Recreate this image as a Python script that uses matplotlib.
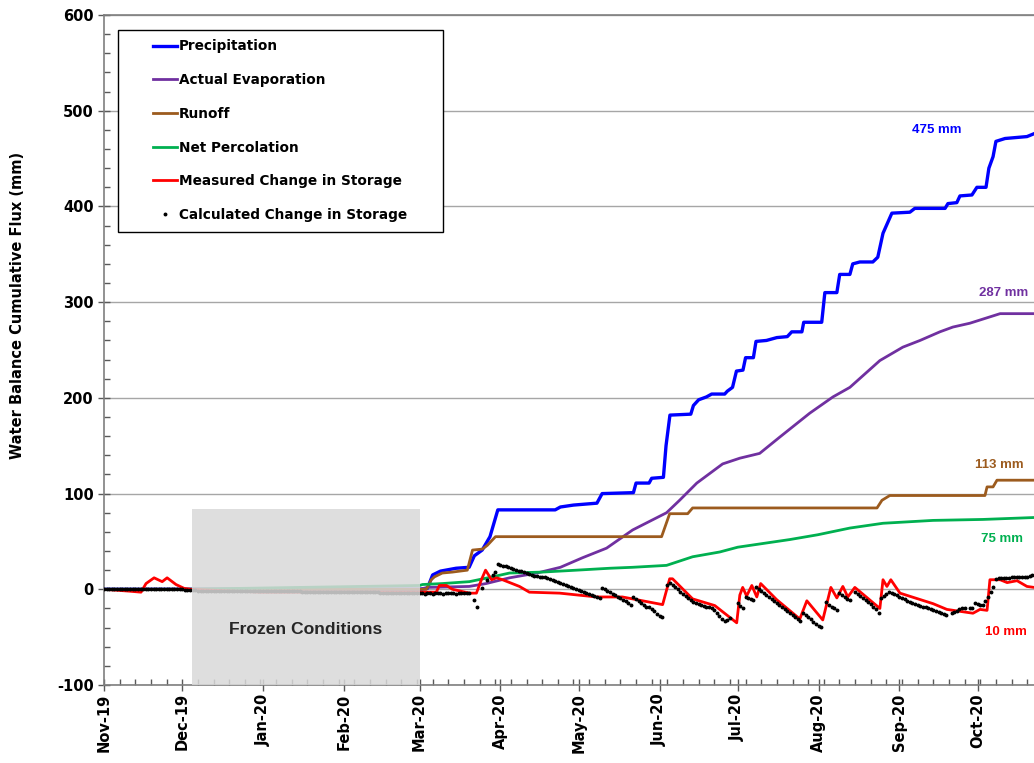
import numpy as np
import matplotlib
matplotlib.use('Agg')
import matplotlib.pyplot as plt
import matplotlib.dates as mdates
from matplotlib.ticker import MultipleLocator, AutoMinorLocator
from matplotlib.patches import Rectangle
from matplotlib.lines import Line2D
from matplotlib.legend_handler import HandlerLine2D
from datetime import datetime

plt.rcParams['axes.unicode_minus'] = False

# day offsets are days since 1 Nov 2019
precip_day = [0, 121, 124, 126, 129, 135, 140, 142, 145, 148, 151, 173, 175, 180, 189, 191,
              203, 204, 209, 210, 214.5, 215.5, 217, 225, 226, 228, 231, 233, 238, 239, 241,
              242.5, 245, 246, 249, 250, 254, 258, 262, 263.7, 267.6, 268.3, 275.2, 276.4, 281,
              282.1, 286, 287.1, 289.8, 294.8, 296.7, 298.7, 302.1, 309, 310.9, 322.5, 323.6,
              327, 328.2, 332.8, 334.7, 338.2, 339.3, 340.9, 342, 345.5, 353.9, 356.6]
precip_val = [0, 0, 1, 15, 19, 22, 23, 35, 41, 55, 83, 83, 86, 88, 90, 100,
              101, 111, 111, 116, 117, 150, 182, 183, 192, 198, 201, 204, 204, 207, 211,
              228, 229, 242, 242, 259, 260, 263, 264, 269, 269, 279, 279, 310, 310,
              329, 329, 340, 342, 342, 347, 372, 393, 394, 398, 398, 403,
              404, 411, 412, 420, 420, 440, 452, 468, 471, 473, 476]

evap_day = [0, 121, 124, 140, 146.5, 155.5, 166, 175, 183.5, 192.7, 202.7, 215.7, 220.7,
            227.3, 237.2, 243.8, 251.4, 259.1, 270.6, 279.5, 286, 297.5, 306.3, 312.9,
            320.5, 325.5, 332, 343.6, 356.6]
evap_val = [0, 0, 2, 3, 6, 12, 17, 23, 33, 43, 62, 80, 93,
            111, 131, 137, 142, 159, 184, 201, 211, 239, 253, 260,
            269, 274, 278, 288, 288]

runoff_day = [0, 123.6, 125.5, 126.7, 129.7, 133.6, 139.3, 141.3, 145.1, 147, 150.1, 213.8,
              216.9, 223.8, 225.7, 296.4, 298.3, 301.3, 337.8, 338.6, 340.9, 342.4, 356.6]
runoff_val = [0, 0, 10, 13, 17, 18, 20, 41, 42, 46, 55, 55,
              79, 79, 85, 85, 93, 98, 98, 107, 107, 114, 114]

perc_day = [0, 30, 121, 122.1, 129.7, 140.1, 148.9, 155.5, 168.1, 181.2, 193.9, 202.7,
            215.7, 225.7, 236.1, 243, 263, 273.7, 286, 298.7, 317.9, 337, 356.6]
perc_val = [0, 0, 4, 5, 6, 8, 13, 17, 18, 20, 22, 23,
            25, 34, 39, 44, 52, 57, 64, 69, 72, 73, 75]

meas_day = [0, 5, 10, 14.2, 16.1, 19.2, 22.3, 24.2, 27.6, 30.7, 33.4, 60, 121, 127.4, 128.6,
            131.3, 133.6, 140.1, 142.8, 144.7, 146.3, 148.6, 150.5, 152.8, 159.3, 163.1,
            174.7, 188.9, 198.8, 214.2, 216.9, 218, 225.7, 234.2, 242.6, 243.8, 244.9, 246.4,
            248.4, 250.3, 251.8, 258, 266.8, 269.5, 275.6, 278.7, 281, 283.3, 285.2, 287.9,
            297.5, 298.7, 300.2, 301.7, 305.2, 317.9, 323.2, 333.2, 335.9, 338.6, 339.7,
            343.6, 346.3, 350.1, 353.9, 356.6]
meas_val = [0, -1, -2, -3, 6, 12, 8, 12, 5, 1, 0, -3, -3, -3, 4,
            4, 0, -4, -4, 10, 20, 10, 12, 10, 3, -3,
            -4, -8, -8, -16, 11, 11, -10, -17, -35, -6, 2, -7,
            4, -8, 6, -11, -31, -12, -32, 2, -9, 3, -8, 2,
            -20, 10, 3, 10, -4, -15, -21, -25, -21, -22, 10,
            10, 7, 9, 3, 2]

nan = np.nan
# daily calculated storage change, from 1 Nov 2019
calc_nov = [0] * 30
calc_dec = [0, -1, -1, -1, -1, -1] + [-2] * 25
calc_jan = [-2] * 15 + [-3] * 16
calc_feb = [-3] * 14 + [-4] * 15
calc_mar = [-4, -4, -5, -4, -4, -5, -4, -4, -4, -5, -4, -4, -4, -4, -5, -4, -4, -4, -4, -4,
            nan, -11, -18, nan, 1, nan, 10, nan, 15, 18, 26]
calc_apr = [25, 24, 24, 23, 22, 21, 20, 19, 19, 18, 17, 16, 15, 14, 14,
            13, 13, 13, 12, 11, 10, 9, 8, 7, 6, 5, 3, 2, 1, 0]
calc_may = [-1, -2, -3, -4, -5, -6, -7, -8, -9, 1, 0, -2, -3, -5, -6, -8, -9, -11, -12,
            -14, -16, -8, -10, -12, -14, -16, -18, -19, -21, -23, -26]
calc_jun = [-28, -29, nan, 5, 7, 5, 2, 0, -3, -5, -7, -9, -11, -13, -14, -15, -16, -17,
            -18, -19, -20, -22, -25, -28, -31, -33, -32, -30, nan, nan]
calc_jul = [-14, -17, -20, -8, -9, -10, -11, 2, 0, -2, -4, -6, -8, -10, -12, -14, -16,
            -19, -21, -23, -25, -27, -29, -31, -33, -25, -27, -29, -31, -34, -36]
calc_aug = [-38, -39, nan, -13, -16, -18, -20, -22, -4, -6, -8, -10, -11, nan, -3, -5,
            -7, -9, -11, -13, -15, -18, -21, -25, -9, -7, -5, -3, -4, -5, -6]
calc_sep = [-8, -9, -10, -12, -13, -14, -15, -16, -17, -18, -19, -20, -21, -22, -23, -24,
            -25, -26, -27, nan, -25, -24, -23, -21, -20, -20, nan, -20, -20, -14]
calc_oct = [-15, -16, -16, -12, -8, -3, 2, 11, 12, 12, 12, 12, 12, 13, 13, 13, 13, 13,
            13, 13, 14, 15]
calc_val = (calc_nov + calc_dec + calc_jan + calc_feb + calc_mar + calc_apr + calc_may
            + calc_jun + calc_jul + calc_aug + calc_sep + calc_oct)

start = mdates.date2num(datetime(2019, 11, 1))


def to_x(days):
    return start + np.asarray(days, dtype=float)


fig = plt.figure(figsize=(10.34, 7.63), dpi=100)
ax = fig.add_axes([0.1006, 0.1022, 0.8994, 0.8781])

ax.plot(to_x(precip_day), precip_val, color='#0000ff', lw=2.4, label='Precipitation', zorder=3)
ax.plot(to_x(evap_day), evap_val, color='#7030a0', lw=2.0, label='Actual Evaporation', zorder=3)
ax.plot(to_x(runoff_day), runoff_val, color='#9c5b1e', lw=2.0, label='Runoff', zorder=3)
ax.plot(to_x(perc_day), perc_val, color='#00b050', lw=2.0, label='Net Percolation', zorder=3)
ax.plot(to_x(meas_day), meas_val, color='#ff0000', lw=2.0,
        label='Measured Change in Storage', zorder=3)
ax.plot(to_x(np.arange(len(calc_val))), calc_val, ls='none', marker='o', ms=1.8,
        color='black', label='Calculated Change in Storage', zorder=4)

# frozen period box
ax.add_patch(Rectangle((to_x(33.8), -100), 121 - 33.8, 184, facecolor='#d9d9d9',
                       edgecolor='none', alpha=0.85, zorder=5))
ax.text(to_x(77.4), -42, 'Frozen Conditions', ha='center', va='center', fontsize=12.6,
        fontweight='bold', color='#262626', zorder=6, family='Liberation Sans')

lab_font = dict(ha='center', va='center', fontsize=9.5, fontweight='bold',
                family='Liberation Sans')
ax.text(to_x(319.4), 480, '475 mm', color='#0000ff', **lab_font)
ax.text(to_x(345), 310, '287 mm', color='#7030a0', **lab_font)
ax.text(to_x(343.2), 130, '113 mm', color='#9c5b1e', **lab_font)
ax.text(to_x(344.3), 52.5, '75 mm', color='#00b050', **lab_font)
ax.text(to_x(346), -45, '10 mm', color='#ff0000', **lab_font)

ax.set_xlim(start, start + 356.6)
ax.set_ylim(-100, 600)

ax.yaxis.set_major_locator(MultipleLocator(100))
ax.yaxis.set_minor_locator(MultipleLocator(20))
ax.xaxis.set_major_locator(mdates.MonthLocator())
ax.xaxis.set_major_formatter(mdates.DateFormatter('%b-%y'))
ax.xaxis.set_minor_locator(AutoMinorLocator(5))

ax.yaxis.grid(True, color='#a6a6a6', lw=1.0)
ax.set_axisbelow(True)

ax.tick_params(which='major', direction='inout', length=8, width=1, color='#595959',
               labelsize=10.5)
ax.tick_params(which='minor', direction='in', length=4, width=1, color='#595959')
ax.tick_params(axis='x', which='major', labelrotation=90, pad=2)
for lbl in ax.get_xticklabels() + ax.get_yticklabels():
    lbl.set_fontweight('bold')

ax.spines['right'].set_visible(False)
for s in ['left', 'bottom', 'top']:
    ax.spines[s].set_color('#7f7f7f')
    ax.spines[s].set_linewidth(1.2)

fig.text(0.017, 1 - 305 / 763, 'Water Balance Cumulative Flux (mm)', rotation=90,
         ha='center', va='center', fontsize=10.5, fontweight='bold')

leg = ax.legend(loc='upper left', bbox_to_anchor=(0.0151, 0.6765, 0.3495, 0.3015),
                mode='expand', borderaxespad=0, frameon=True, fancybox=False,
                edgecolor='black', framealpha=1, borderpad=0.7, labelspacing=1.45,
                handlelength=3.6, handletextpad=0.15, prop={'weight': 'bold', 'size': 9.8},
                handler_map={Line2D: HandlerLine2D(xpad=1.87)})
leg.get_frame().set_linewidth(1.0)
leg.set_zorder(10)

fig.savefig('out.png', dpi=100)
